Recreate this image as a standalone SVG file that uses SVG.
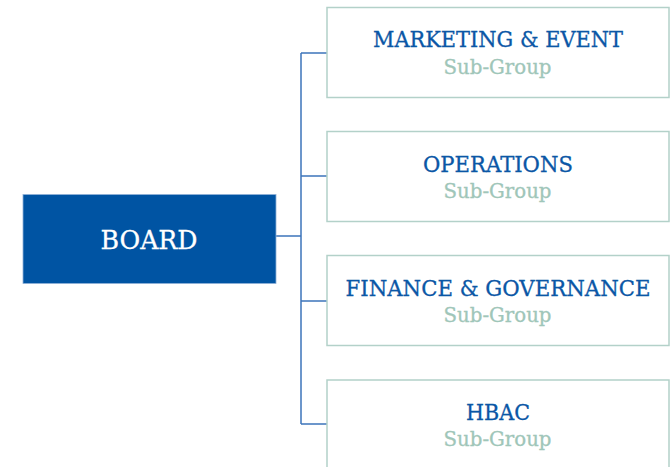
<svg xmlns="http://www.w3.org/2000/svg" width="670" height="467" viewBox="0 0 670 467">
<style>
.box{fill:#ffffff;stroke:#b3d1c9;stroke-width:1.5}
.board{fill:#0054a3;stroke:#8fb1d8;stroke-width:0.8}
.t{font-family:"DejaVu Serif","Liberation Serif",serif;font-size:22px;fill:#0b57a6;stroke:#0b57a6;stroke-width:0.3;text-anchor:middle}
.s{font-family:"DejaVu Serif","Liberation Serif",serif;font-size:19.5px;fill:#9fc6b9;stroke:#9fc6b9;stroke-width:0.3;text-anchor:middle}
.bt{font-family:"DejaVu Serif","Liberation Serif",serif;font-size:25.5px;fill:#ffffff;stroke:#ffffff;stroke-width:0.3;text-anchor:middle}
.c{fill:none;stroke:#3d74ba;stroke-width:1.5}
</style>
<rect width="670" height="467" fill="#ffffff"/>
<g id="connectors">
<path class="c" d="M276 236H301M301 53V424M301 53H327M301 176H327M301 301H327M301 424H327"/>
</g>
<g id="board">
<rect class="board" x="23" y="194.5" width="253" height="89"/>
<text class="bt" x="149" y="249" textLength="97" lengthAdjust="spacingAndGlyphs">BOARD</text>
</g>
<g id="marketing">
<rect class="box" x="327" y="7.5" width="342" height="90"/>
<text class="t" x="498" y="46.5" textLength="250" lengthAdjust="spacingAndGlyphs">MARKETING &amp; EVENT</text>
<text class="s" x="497.5" y="74" textLength="108" lengthAdjust="spacingAndGlyphs">Sub-Group</text>
</g>
<g id="operations">
<rect class="box" x="327" y="131.5" width="342" height="90"/>
<text class="t" x="498" y="172" textLength="150" lengthAdjust="spacingAndGlyphs">OPERATIONS</text>
<text class="s" x="497.5" y="198" textLength="108" lengthAdjust="spacingAndGlyphs">Sub-Group</text>
</g>
<g id="finance">
<rect class="box" x="327" y="255.5" width="342" height="90"/>
<text class="t" x="498" y="295.5" textLength="305" lengthAdjust="spacingAndGlyphs">FINANCE &amp; GOVERNANCE</text>
<text class="s" x="497.5" y="322" textLength="108" lengthAdjust="spacingAndGlyphs">Sub-Group</text>
</g>
<g id="hbac">
<rect class="box" x="327" y="380" width="342" height="90"/>
<text class="t" x="498" y="420" textLength="64" lengthAdjust="spacingAndGlyphs">HBAC</text>
<text class="s" x="497.5" y="446" textLength="108" lengthAdjust="spacingAndGlyphs">Sub-Group</text>
</g>
</svg>
